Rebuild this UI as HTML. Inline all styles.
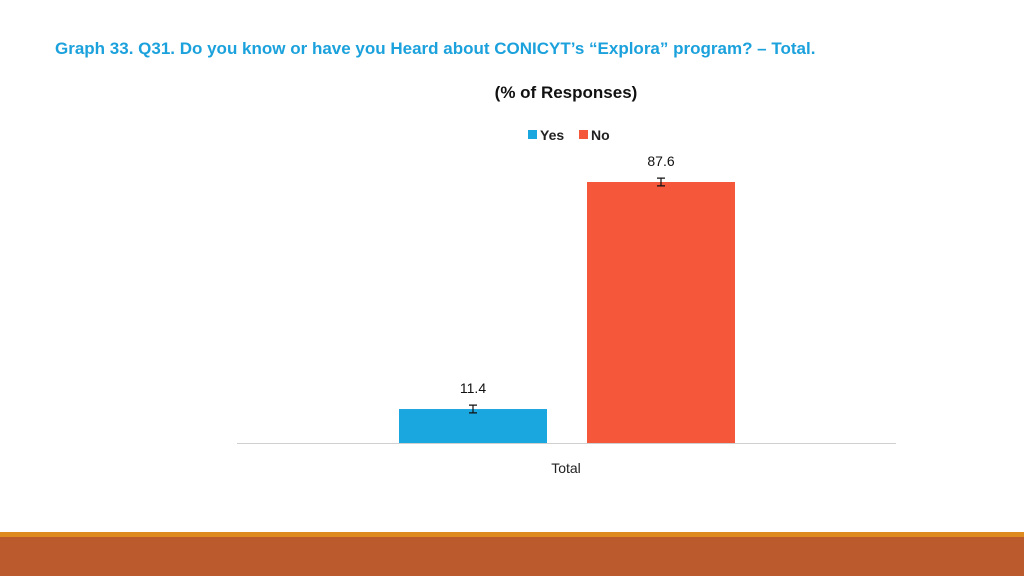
<!DOCTYPE html>
<html><head><meta charset="utf-8"><style>
body{margin:0;width:1024px;height:576px;background:#fff;overflow:hidden;position:relative;font-family:"Liberation Sans",sans-serif}
</style></head><body>
<svg width="1024" height="576" style="position:absolute;left:0;top:0">
<text x="55" y="54" font-size="17" font-weight="bold" fill="#1ba1dc">Graph 33. Q31. Do you know or have you Heard about CONICYT’s “Explora” program? – Total.</text>
<text x="566" y="98" font-size="17" font-weight="bold" fill="#111" text-anchor="middle">(% of Responses)</text>
<g>
<rect x="528" y="130" width="9" height="9" fill="#1aa6df"/>
<text x="540" y="140" font-size="14" font-weight="bold" fill="#222">Yes</text>
<rect x="579" y="130" width="9" height="9" fill="#f4573a"/>
<text x="591" y="140" font-size="14" font-weight="bold" fill="#222">No</text>
</g>
<line x1="237" y1="443.5" x2="896" y2="443.5" stroke="#d0d0d0" stroke-width="1"/>
<text x="566" y="473" font-size="14" fill="#222" text-anchor="middle">Total</text>
<g id="bars"></g>
<rect x="0" y="532" width="1024" height="5" fill="#df8a1f"/>
<rect x="0" y="537" width="1024" height="39" fill="#bb5a2d"/>
</svg>
<script>
const categories=["Yes","No"];
const values=[11.4,87.6];
const errors=[1.3,1.3];
const labels=["11.4","87.6"];
const colors=["#1aa6df","#f4573a"];
const baseY=443, pxPerUnit=261/87.6;
function y(v){return baseY-v*pxPerUnit;}
const g=document.getElementById('bars');
const ns="http://www.w3.org/2000/svg";
const xs=[399,587], w=148;
values.forEach((v,i)=>{
 const r=document.createElementNS(ns,'rect');
 
 
 r.setAttribute('x',xs[i]);r.setAttribute('y',y(v));r.setAttribute('width',w);r.setAttribute('height',baseY-y(v));r.setAttribute('fill',colors[i]);
 g.appendChild(r);
 const cx=xs[i]+w/2;
 const e=document.createElementNS(ns,'path');
 
 
 const t=y(v+errors[i]),b=y(v-errors[i]);
 e.setAttribute('d',`M${cx-4},${t}H${cx+4}M${cx},${t}V${b}M${cx-4},${b}H${cx+4}`);
 e.setAttribute('stroke','#111');e.setAttribute('stroke-width','1.2');e.setAttribute('fill','none');
 g.appendChild(e);
 const tx=document.createElementNS(ns,'text');
 
 
 tx.setAttribute('x',cx);tx.setAttribute('y',y(v)-16);tx.setAttribute('text-anchor','middle');tx.setAttribute('font-size','14');tx.setAttribute('fill','#111');
 tx.textContent=labels[i];
 g.appendChild(tx);
});
</script>
</body></html>
